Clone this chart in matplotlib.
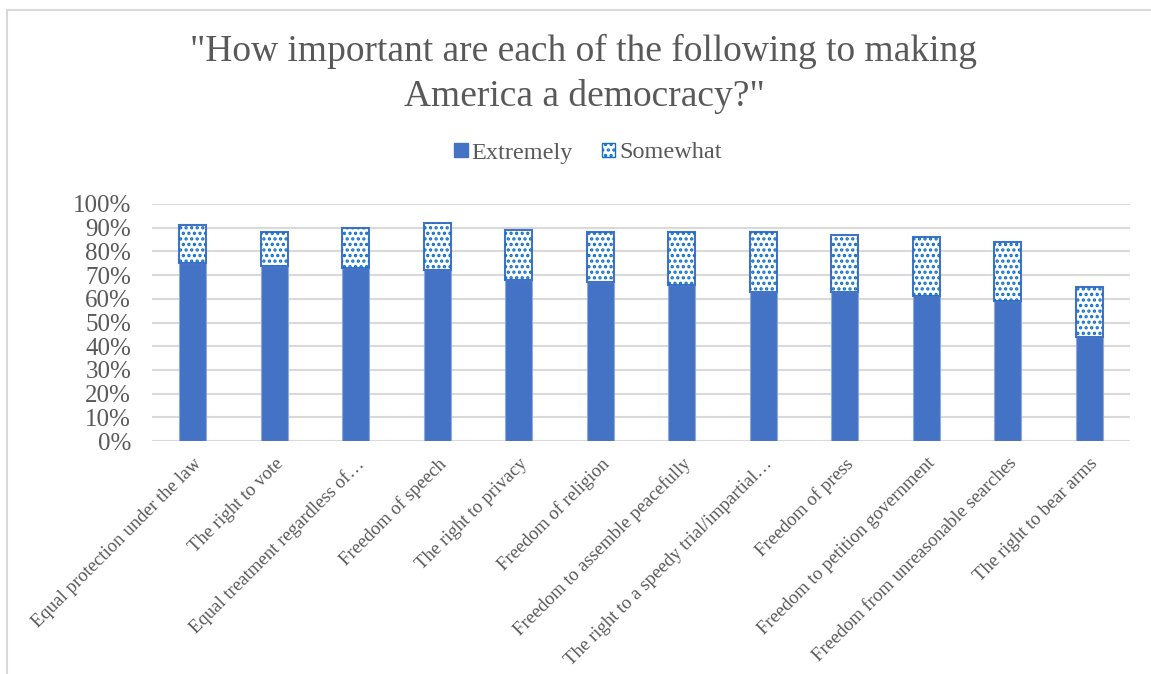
import matplotlib.pyplot as plt
from matplotlib.patches import Rectangle, Patch
from matplotlib.ticker import PercentFormatter

categories = [
    "Equal protection under the law",
    "The right to vote",
    "Equal treatment regardless of\u2026",
    "Freedom of speech",
    "The right to privacy",
    "Freedom of religion",
    "Freedom to assemble peacefully",
    "The right to a speedy trial/impartial\u2026",
    "Freedom of press",
    "Freedom to petition government",
    "Freedom from unreasonable searches",
    "The right to bear arms",
]
extremely = [75, 74, 73, 72, 68, 67, 66, 63, 63, 61, 59, 44]
somewhat = [16, 14, 17, 20, 21, 21, 22, 25, 24, 25, 25, 21]

blue = "#4472C4"
dot_blue = "#1070C8"
grey_text = "#595959"

plt.rcParams["font.family"] = ["Liberation Serif", "DejaVu Serif"]
plt.rcParams["hatch.linewidth"] = 1.6

fig = plt.figure(figsize=(11.51, 6.74), dpi=100)
fig.patches.append(Rectangle((7 / 1151, -0.1), 1.2, 1 - 10 / 674 + 0.1,
                             transform=fig.transFigure, fill=False,
                             edgecolor="#D9D9D9", linewidth=1.5))

ax = fig.add_axes([152 / 1151, 1 - 441 / 674, 978 / 1151, 237 / 674])
x = range(len(categories))
ax.bar(x, extremely, width=0.33, color=blue, edgecolor="#8FAADC", linewidth=0.8, zorder=3)
ax.bar(x, somewhat, bottom=extremely, width=0.33, color="white",
       edgecolor=blue, linewidth=1.5, zorder=3)
# dotted fill for the "somewhat" segment
ax.bar(x, somewhat, bottom=extremely, width=0.33, color="none",
       edgecolor=dot_blue, hatch="...", linewidth=0, zorder=4)

ax.set_xlim(-0.5, len(categories) - 0.5)
ax.set_ylim(0, 100)
ax.set_yticks(range(0, 101, 10))
ax.yaxis.set_major_formatter(PercentFormatter(decimals=0))
ax.grid(axis="y", color="#D9D9D9", linewidth=1.5, zorder=0)
for s in ax.spines.values():
    s.set_visible(False)
ax.tick_params(axis="both", length=0, colors=grey_text)
ax.tick_params(axis="y", labelsize=18, pad=15)
ax.set_xticks(list(x))
ax.set_xticklabels(categories, rotation=45, ha="right", rotation_mode="anchor",
                   fontsize=13.5)
ax.tick_params(axis="x", pad=10)

fig.text(584 / 1151, 1 - 74 / 674,
         "\"How important are each of the following to making\nAmerica a democracy?\"",
         ha="center", va="center", fontsize=27, color=grey_text, linespacing=1.4)

handles = [Patch(facecolor=blue, edgecolor=blue),
           Patch(facecolor="white", edgecolor=dot_blue, hatch="...")]
fig.legend(handles, ["Extremely", "Somewhat"], loc="center",
           bbox_to_anchor=(588 / 1151, 1 - 153 / 674), ncol=2, frameon=False,
           fontsize=17.5, labelcolor=grey_text, handlelength=0.55, handleheight=0.55,
           handletextpad=0.15, columnspacing=1.2)

fig.savefig("out.png", dpi=100, facecolor="white")
